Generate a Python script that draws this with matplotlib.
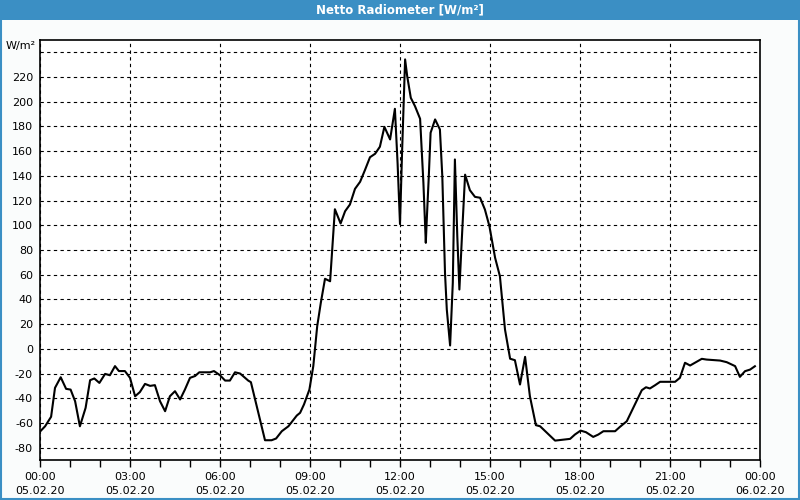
import matplotlib
matplotlib.use("Agg")
import matplotlib.pyplot as plt
from matplotlib.patches import Rectangle

# ==== Data (hours since 05.02.20 00:00, W/m²) ====
hours = [0, 0.17, 0.37, 0.5, 0.69, 0.87, 1.02, 1.17, 1.33, 1.52, 1.67, 1.81, 1.98,
         2.17, 2.33, 2.5, 2.63, 2.83, 3.0, 3.17, 3.33, 3.5, 3.67, 3.83, 4.0, 4.17,
         4.33, 4.5, 4.67, 4.83, 5.0, 5.17, 5.31, 5.67, 5.8, 6.0, 6.17, 6.33, 6.5,
         6.67, 6.94, 7.03, 7.5, 7.72, 7.87, 8.06, 8.28, 8.56, 8.67, 8.8, 8.98, 9.11,
         9.24, 9.36, 9.5, 9.67, 9.83, 10.02, 10.17, 10.33, 10.5, 10.67, 10.83, 11.0,
         11.17, 11.33, 11.48, 11.67, 11.83, 11.92, 12.0, 12.07, 12.17, 12.24, 12.36,
         12.5, 12.67, 12.78, 12.86, 12.89, 12.96, 13.02, 13.17, 13.33, 13.41, 13.5,
         13.56, 13.67, 13.76, 13.83, 13.91, 13.98, 14.06, 14.17, 14.33, 14.5, 14.67,
         14.83, 14.98, 15.17, 15.33, 15.5, 15.67, 15.83, 16.0, 16.17, 16.33, 16.53,
         16.67, 17.17, 17.67, 17.83, 18.02, 18.2, 18.44, 18.61, 18.78, 19.17, 19.33,
         19.56, 19.72, 19.91, 20.06, 20.2, 20.33, 20.5, 20.67, 21.17, 21.33, 21.5,
         21.67, 21.83, 22.06, 22.22, 22.67, 22.89, 23.17, 23.33, 23.5, 23.67, 23.83]
values = [-67, -62.7, -55, -31.6, -23, -32.4, -33, -42.4, -62.7, -47.8, -25.4, -24, -27.6,
          -20.3, -21.4, -14, -18, -18, -23.5, -38.4, -35, -28.4, -30, -29.4, -42.4, -50.5,
          -38.4, -34.3, -41, -33, -23.5, -22, -19, -19, -18, -21.4, -25.7, -25.7, -19,
          -20, -25.7, -27, -74, -74, -72.6, -66.7, -62.7, -54, -51.8, -45, -33, -14,
          18.3, 37.2, 56.7, 54.7, 113, 101.5, 111.4, 116.8, 129.5, 135.2, 144.6, 155.1,
          157.9, 163.6, 179.7, 169.5, 194.3, 150, 101, 160, 234.3, 220.7, 203.2,
          196.4, 186.2, 134.4, 85.8, 103.3, 139.8, 174.9, 185.7, 177.6, 139.8, 61.5,
          31.8, 2.7, 53.4, 153.3, 91, 48, 88.5, 141, 128.4, 123, 122.3,
          112.8, 99.3, 73.7, 58.8, 15.6, -8, -9.2, -28.9, -6.5, -38.4, -61.8,
          -62.7, -74.3, -72.9, -69.4, -66.2, -67.5, -71.3, -69.4, -66.7, -66.7, -63.2,
          -58.6, -50.5, -41, -33.5, -31.1, -32.1, -29.5, -26.7, -26.7, -23.5, -11.3,
          -13.5, -11.3, -8.1, -8.7, -9.5, -10.8, -14, -22.7, -18.1, -16.8, -14.1]

tick_hours = [0, 3, 6, 9, 12, 15, 18, 21, 24]
tick_labels = ["00:00\n05.02.20", "03:00\n05.02.20", "06:00\n05.02.20",
               "09:00\n05.02.20", "12:00\n05.02.20", "15:00\n05.02.20",
               "18:00\n05.02.20", "21:00\n05.02.20", "00:00\n06.02.20"]
y_ticks = list(range(-80, 241, 20))

blue = "#3b8fc4"
bg = "#fafcfc"

plt.rcParams['font.family'] = ['DejaVu Sans']
fig = plt.figure(figsize=(8, 5), dpi=100, facecolor=bg)
ax = fig.add_axes([0.05, 0.08, 0.9, 0.84], facecolor="white")

ax.plot(hours, values, color="black", linewidth=1.5)

ax.set_xlim(0, 24)
ax.set_ylim(-90, 250)
ax.set_xticks(tick_hours)
ax.set_xticklabels(tick_labels, fontsize=8, linespacing=1.45)
ax.set_xticks(range(25), minor=True)
ax.set_yticks(y_ticks)
ax.set_yticklabels([str(v) if v < 240 else "" for v in y_ticks], fontsize=8)
ax.tick_params(axis="x", which="both", direction="out", length=5, width=1, pad=4)
ax.tick_params(axis="y", length=0, pad=5)

ax.grid(True, which="major", color="black", linestyle=(0, (3, 3)), linewidth=0.8)
for s in ax.spines.values():
    s.set_linewidth(1.2)

fig.text(36 / 800, 1 - 46 / 500, "W/m²", ha="right", va="center", fontsize=8)

# ==== Title bar and window border ====
fig.patches.append(Rectangle((0, 1 - 20 / 500), 1, 20 / 500, transform=fig.transFigure,
                             facecolor=blue, edgecolor="none", zorder=0))
fig.patches.append(Rectangle((0.001, 0.002), 0.998, 0.996, transform=fig.transFigure,
                             facecolor="none", edgecolor=blue, linewidth=1.5, zorder=1))
fig.text(0.5, 1 - 10 / 500, "Netto Radiometer [W/m²]", ha="center", va="center",
         color="white", fontsize=8.5, fontweight="bold")

fig.savefig("out.png", dpi=100, facecolor=bg)
